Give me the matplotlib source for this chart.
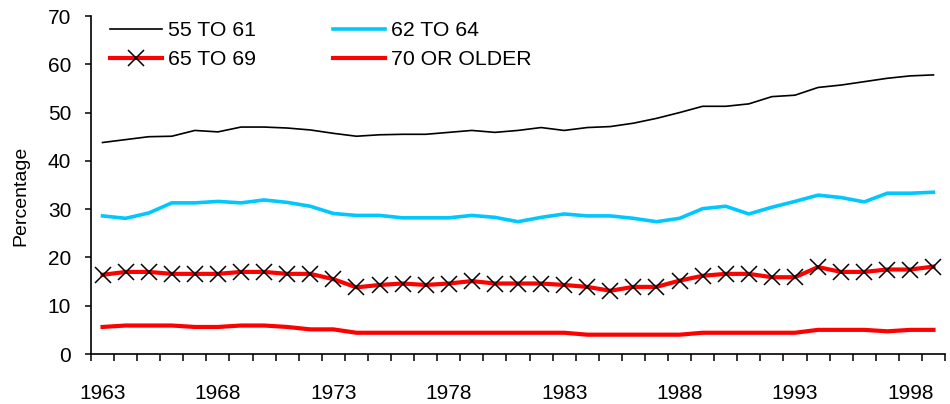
import matplotlib
matplotlib.use("Agg")
import matplotlib.pyplot as plt
import numpy as np

plt.rcParams['font.family'] = ['Liberation Sans', 'DejaVu Sans']

years = list(range(1963, 2000))
tick_years = [1963, 1968, 1973, 1978, 1983, 1988, 1993, 1998]

age_55_61 = [43.8, 44.4, 45.0, 45.1, 46.3, 46.0, 47.0, 47.0, 46.8, 46.4,
             45.7, 45.1, 45.4, 45.5, 45.5, 45.9, 46.3, 45.9, 46.3, 46.9,
             46.3, 46.9, 47.1, 47.8, 48.8, 50.0, 51.3, 51.3, 51.8, 53.3,
             53.6, 55.2, 55.7, 56.4, 57.1, 57.6, 57.8]
age_62_64 = [28.6, 28.1, 29.2, 31.3, 31.3, 31.6, 31.3, 31.9, 31.4, 30.6,
             29.1, 28.7, 28.7, 28.2, 28.2, 28.2, 28.7, 28.3, 27.4, 28.3,
             29.0, 28.6, 28.6, 28.1, 27.4, 28.1, 30.1, 30.6, 29.0, 30.4,
             31.6, 32.9, 32.4, 31.5, 33.3, 33.3, 33.5]
age_65_69 = [16.4, 17.0, 17.0, 16.6, 16.6, 16.6, 17.0, 17.0, 16.6, 16.6,
             15.5, 13.8, 14.3, 14.6, 14.3, 14.6, 15.1, 14.6, 14.6, 14.6,
             14.3, 13.9, 13.1, 13.9, 13.9, 15.2, 16.2, 16.6, 16.6, 15.9,
             15.9, 18.0, 17.0, 17.0, 17.5, 17.5, 18.1]
age_70_plus = [5.6, 5.9, 5.9, 5.9, 5.6, 5.6, 5.9, 5.9, 5.6, 5.1,
               5.1, 4.4, 4.4, 4.4, 4.4, 4.4, 4.4, 4.4, 4.4, 4.4,
               4.4, 4.0, 4.0, 4.0, 4.0, 4.0, 4.4, 4.4, 4.4, 4.4,
               4.4, 5.0, 5.0, 5.0, 4.7, 5.0, 5.0]

labels = ["55 TO 61", "62 TO 64", "65 TO 69", "70 OR OLDER"]

fig = plt.figure(figsize=(9.5, 4.04), dpi=100)
ax = fig.add_axes([91/950, 50/404, 854/950, 338/404])

h1, = ax.plot(years, age_55_61, color='black', lw=1.2, label=labels[0], zorder=3)
h2, = ax.plot(years, age_62_64, color='#00C8FF', lw=2.6, label=labels[1], zorder=3)
h3, = ax.plot(years, age_65_69, color='#FF0000', lw=3.0, marker='x', markersize=11,
              markeredgecolor='black', markeredgewidth=1.1, label=labels[2], zorder=3)
h4, = ax.plot(years, age_70_plus, color='#FF0000', lw=3.0, label=labels[3], zorder=3)

ax.set_xlim(years[0] - 0.5, years[-1] + 0.5)
ax.set_ylim(0, 70)
ax.set_yticks(np.arange(0, 71, 10))
ax.set_xticks(np.arange(years[0] - 0.5, years[-1] + 1, 1))
ax.set_xticklabels([])
ax.set_xticks(tick_years, minor=True)
ax.set_xticklabels([str(y) for y in tick_years], minor=True)

ax.tick_params(axis='x', which='major', direction='out', length=5, width=1.1, color='black')
ax.tick_params(axis='x', which='minor', length=0, pad=21.5, labelsize=15)
ax.tick_params(axis='y', direction='out', length=4.3, width=1.1, pad=10, labelsize=15)

for s in ['top', 'right']:
    ax.spines[s].set_visible(False)
for s in ['left', 'bottom']:
    ax.spines[s].set_linewidth(1.2)
    ax.spines[s].set_color('black')

fig.text(21/950, 1 - 196/404, 'Percentage', rotation=90, ha='center', va='center', fontsize=14)

ax.legend([h1, h3, h2, h4], [labels[0], labels[2], labels[1], labels[3]],
          loc='upper left', bbox_to_anchor=(110/950, 1 - 21/404), bbox_transform=fig.transFigure,
          ncol=2, frameon=False, fontsize=15.3, handlelength=2.45, handletextpad=0.3,
          columnspacing=3.6, borderpad=0, borderaxespad=0, labelspacing=0.48, numpoints=1)

fig.savefig('out.png', dpi=100)
